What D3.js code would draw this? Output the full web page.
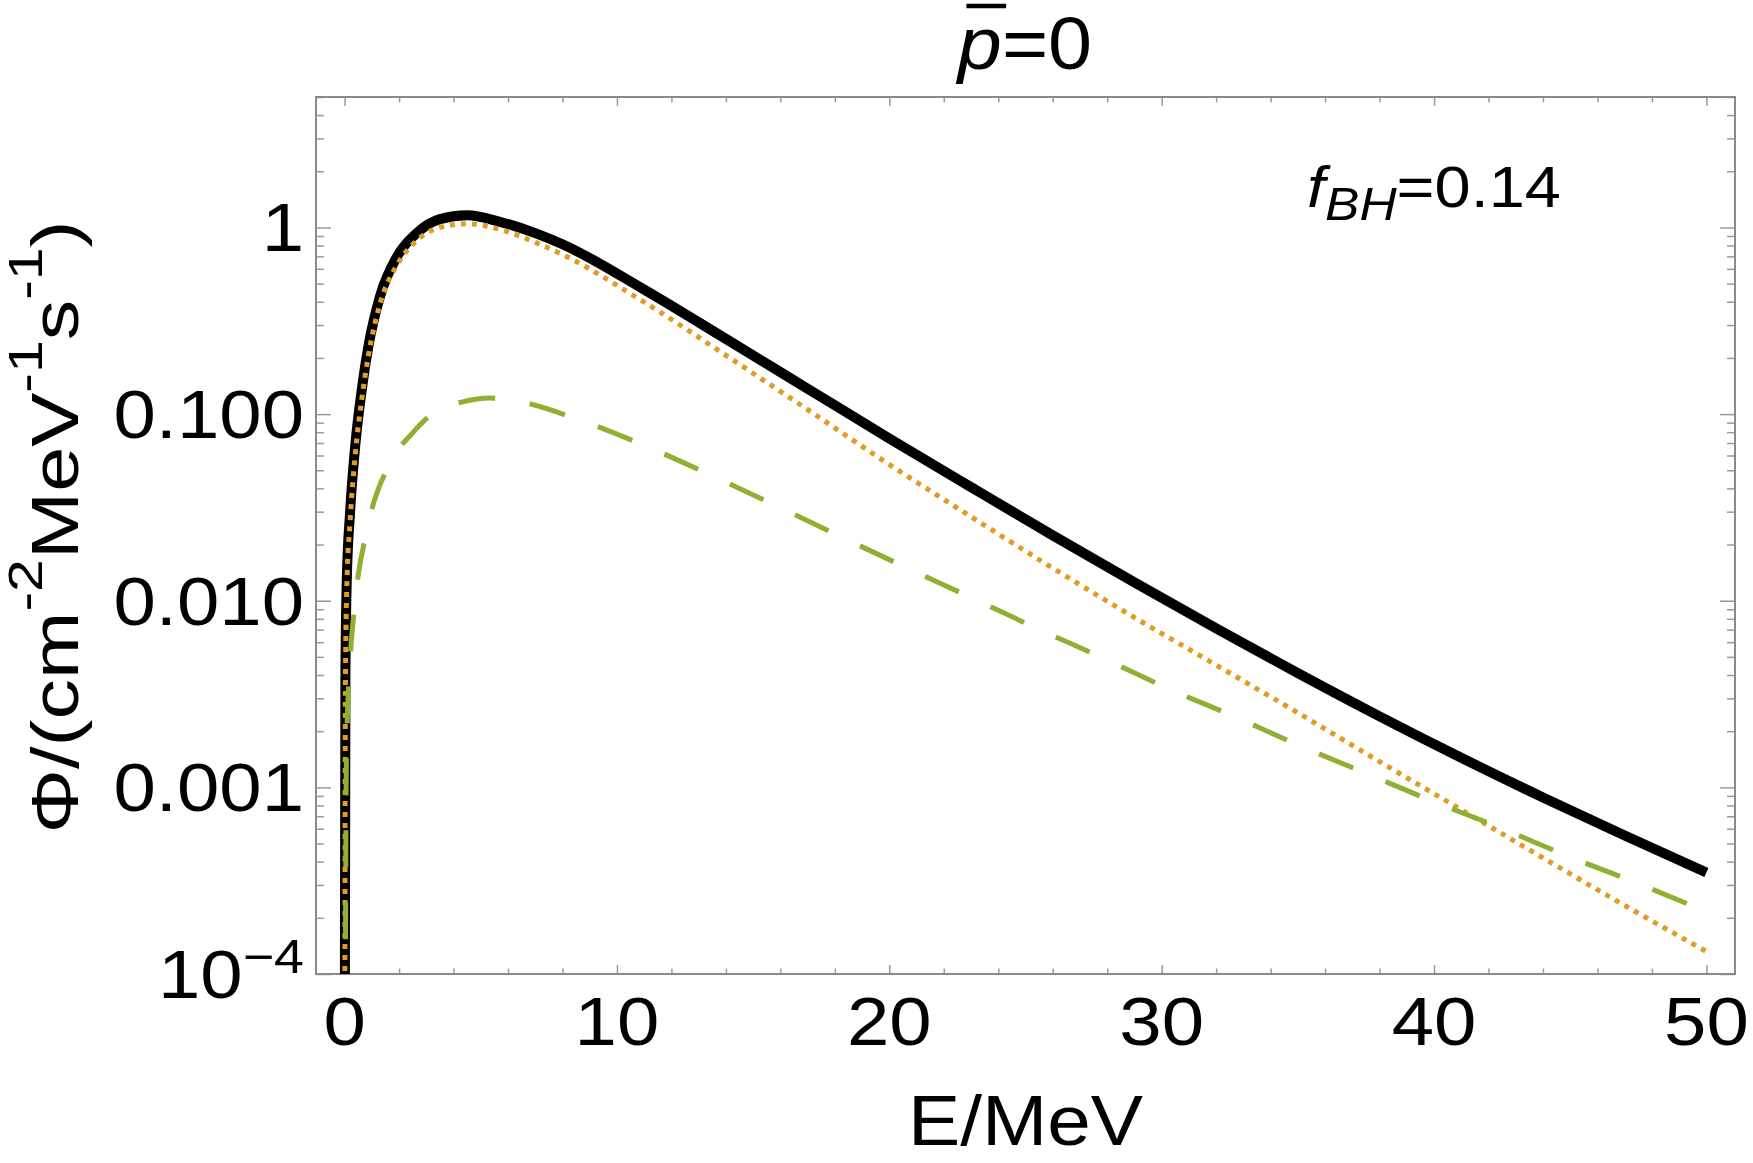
<!DOCTYPE html>
<html>
<head>
<meta charset="utf-8">
<script src="https://cdn.jsdelivr.net/npm/d3@7"></script>
<style>
  body { margin: 0; background: #fff; }
  svg { display: block; }
  text { font-family: "Liberation Sans", Arial, Helvetica, sans-serif; fill: #000; }
</style>
</head>
<body>
<div id="chart"></div>
<script>
// energies (MeV) and fluxes
var energy = [0.01, 0.03, 0.08, 0.2, 0.39, 0.63, 0.87, 1.3, 1.93, 2.65, 3.5, 4.5, 5.7, 7, 8,
  11, 14, 17, 20, 23, 26, 29, 32, 35, 38, 41, 44, 47, 50];
var fluxTotal = [7.9e-5, 0.00398, 0.0129, 0.0295, 0.0676, 0.135, 0.229, 0.427, 0.700, 0.933, 1.109, 1.161, 1.072, 0.933, 0.813,
  0.4645, 0.2529, 0.1368, 0.0740, 0.0406, 0.02239, 0.01253, 0.00711, 0.00409, 0.00240, 0.00144, 0.000883, 0.000552, 0.000350];
var fluxOrange = [7.9e-5, 0.00355, 0.0117, 0.0263, 0.0603, 0.120, 0.204, 0.389, 0.631, 0.851, 1.0, 1.047, 0.977, 0.832, 0.716,
  0.398, 0.2065, 0.1057, 0.0537, 0.0282, 0.01496, 0.00813, 0.00452, 0.00251, 0.001374, 0.000759, 0.000419, 0.000233, 0.000132];
var energyGreen = [0.03, 0.05, 0.08, 0.18, 0.39, 0.84, 1.72, 2.5, 3.4, 4.3, 5.3, 6.5, 8.6, 11.1, 13.5, 15.9, 18.25, 20.6, 23, 25.4,
  28, 30.2, 32.6, 35, 37.5, 39.9, 42.4, 44.8, 47.3, 50];
var fluxGreen = [6.3e-5, 0.000794, 0.00178, 0.00417, 0.0100, 0.0245, 0.0562, 0.0794, 0.105, 0.116, 0.122, 0.116, 0.0933, 0.0670, 0.0467, 0.0320, 0.0219, 0.0151, 0.0104, 0.00713,
  0.00481, 0.00340, 0.00242, 0.00169, 0.00119, 0.000849, 0.000610, 0.000435, 0.000313, 0.000216];

var xTicks = [0, 10, 20, 30, 40, 50];
var yTicks = [1e-4, 1e-3, 1e-2, 1e-1, 1];
var yTickLabels = ["10^\u22124", "0.001", "0.010", "0.100", "1"];

var margin = {top: 97, right: 18, bottom: 189, left: 316},
    width = 1753 - margin.left - margin.right,
    height = 1163 - margin.top - margin.bottom;

var root = d3.select("#chart").append("svg")
    .attr("width", 1753)
    .attr("height", 1163);
var svg = root.append("g")
    .attr("transform", "translate(" + margin.left + "," + margin.top + ")");

var x = d3.scaleLinear().domain([-1.05, 51.05]).range([0, width]);
var y = d3.scaleLog().domain([1e-4, 5]).range([height, 0]);

// minor ticks
var xMinor = d3.range(0, 51, 2).filter(function(d) { return d % 10 != 0; });
var yMinor = [];
for (var p = -4; p <= 0; p++) {
  for (var k = 2; k <= 9; k++) {
    var v = k * Math.pow(10, p);
    if (v <= 5) yMinor.push(v);
  }
}

function frameAxis(axis, tr) {
  var g = svg.append("g").attr("transform", tr).call(axis);
  g.select(".domain").remove();
  g.selectAll("line").attr("stroke", "#9a9a9a").attr("stroke-width", 1.5);
}
frameAxis(d3.axisBottom(x).tickValues(xTicks).tickSize(-9).tickFormat(""), "translate(0," + height + ")");
frameAxis(d3.axisBottom(x).tickValues(xMinor).tickSize(-5.5).tickFormat(""), "translate(0," + height + ")");
frameAxis(d3.axisTop(x).tickValues(xTicks).tickSize(-9).tickFormat(""), "translate(0,0)");
frameAxis(d3.axisTop(x).tickValues(xMinor).tickSize(-5.5).tickFormat(""), "translate(0,0)");
frameAxis(d3.axisLeft(y).tickValues(yTicks).tickSize(-15).tickFormat(""), "translate(0,0)");
frameAxis(d3.axisLeft(y).tickValues(yMinor).tickSize(-8).tickFormat(""), "translate(0,0)");
frameAxis(d3.axisRight(y).tickValues(yTicks).tickSize(-15).tickFormat(""), "translate(" + width + ",0)");
frameAxis(d3.axisRight(y).tickValues(yMinor).tickSize(-8).tickFormat(""), "translate(" + width + ",0)");

svg.append("rect")
    .attr("width", width).attr("height", height)
    .attr("fill", "none").attr("stroke", "#8a8a8a").attr("stroke-width", 2);

// curves
svg.append("clipPath").attr("id", "clip")
  .append("rect").attr("width", width).attr("height", height);

var line = d3.line()
    .x(function(d) { return x(d[0]); })
    .y(function(d) { return y(d[1]); })
    .curve(d3.curveMonotoneX);

var plot = svg.append("g").attr("clip-path", "url(#clip)");

plot.append("path")
    .datum(d3.zip(energy, fluxTotal))
    .attr("fill", "none").attr("stroke", "#000").attr("stroke-width", 10)
    .attr("d", line);
plot.append("path")
    .datum(d3.zip(energy, fluxOrange))
    .attr("fill", "none").attr("stroke", "#E19C24").attr("stroke-width", 5)
    .attr("stroke-dasharray", "5,6")
    .attr("d", line);
plot.append("path")
    .datum(d3.zip(energyGreen, fluxGreen))
    .attr("fill", "none").attr("stroke", "#8FB032").attr("stroke-width", 5)
    .attr("stroke-dasharray", "37,35")
    .attr("d", line);

// tick labels
svg.selectAll(".xlab").data(xTicks).join("text")
    .attr("class", "xlab")
    .attr("transform", function(d) { return "translate(" + x(d) + "," + (height + 71) + ") scale(1.12,1)"; })
    .attr("text-anchor", "middle")
    .attr("font-size", 68)
    .text(function(d) { return d; });

svg.selectAll(".ylab").data(yTicks).join("text")
    .attr("class", "ylab")
    .attr("transform", function(d) { return "translate(-12," + (y(d) + 24) + ") scale(1.12,1)"; })
    .attr("text-anchor", "end")
    .attr("font-size", 68)
    .each(function(d, i) {
      var parts = yTickLabels[i].split("^");
      var t = d3.select(this);
      t.append("tspan").text(parts[0]);
      if (parts[1]) t.append("tspan").attr("font-size", 48).attr("dy", -25).text(parts[1]);
    });

// axis titles
root.append("text")
    .attr("transform", "translate(" + (margin.left + width / 2) + ",1145) scale(1.12,1)")
    .attr("text-anchor", "middle")
    .attr("font-size", 70)
    .text("E/MeV");

var yl = root.append("text")
    .attr("transform", "translate(78,527) rotate(-90)")
    .attr("text-anchor", "middle")
    .attr("font-size", 66)
    .attr("textLength", 613)
    .attr("lengthAdjust", "spacingAndGlyphs");
yl.append("tspan").text("\u03A6/(cm");
yl.append("tspan").attr("font-size", 48).attr("dy", -36).text("-2");
yl.append("tspan").attr("dy", 36).text("MeV");
yl.append("tspan").attr("font-size", 48).attr("dy", -36).text("-1");
yl.append("tspan").attr("dy", 36).text("s");
yl.append("tspan").attr("font-size", 48).attr("dy", -36).text("-1");
yl.append("tspan").attr("dy", 36).text(")");

// title
var tg = root.append("g").attr("transform", "translate(1025,69) scale(1.07,1)");
var tt = tg.append("text").attr("text-anchor", "middle").attr("font-size", 74);
tt.append("tspan").attr("font-style", "italic").text("p");
tt.append("tspan").text("=0");
var ex = tt.node().getExtentOfChar(0);
tg.append("line")
    .attr("x1", ex.x + 8).attr("x2", ex.x + ex.width + 4)
    .attr("y1", -63).attr("y2", -63)
    .attr("stroke", "#000").attr("stroke-width", 4.5);

// annotation
var ann = root.append("text")
    .attr("transform", "translate(1307,207) scale(1.12,1)")
    .attr("font-size", 58);
ann.append("tspan").attr("font-style", "italic").text("f");
ann.append("tspan").attr("font-style", "italic").attr("font-size", 46).attr("dy", 13).text("BH");
ann.append("tspan").attr("dy", -13).text("=0.14");
</script>
</body>
</html>
